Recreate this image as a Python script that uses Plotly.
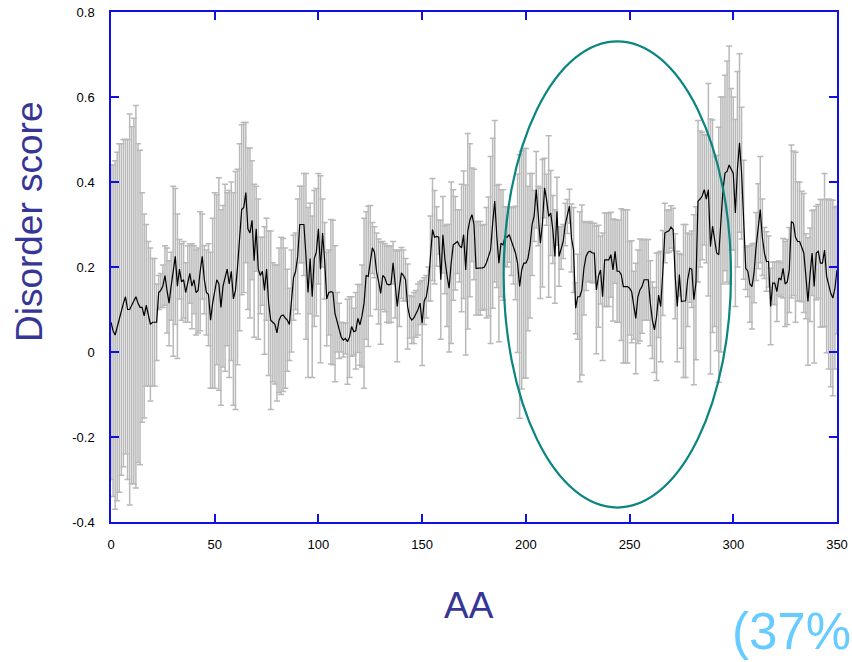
import plotly.graph_objects as go

# Per-residue disorder score (mean) and its spread (standard deviation)
residues = list(range(0, 351))

disorder_mean = [
    0.07, 0.05, 0.04, 0.06, 0.08, 0.10, 0.115, 0.13, 0.10, 0.10,
    0.11, 0.12, 0.13, 0.115, 0.105, 0.105, 0.085, 0.11, 0.09, 0.065,
    0.07, 0.07, 0.07, 0.14, 0.145, 0.155, 0.18, 0.145, 0.115, 0.155,
    0.19, 0.225, 0.155, 0.195, 0.165, 0.17, 0.14, 0.16, 0.185, 0.155,
    0.17, 0.14, 0.145, 0.19, 0.225, 0.17, 0.14, 0.135, 0.075, 0.115,
    0.145, 0.17, 0.16, 0.105, 0.155, 0.175, 0.195, 0.16, 0.19, 0.125,
    0.145, 0.20, 0.27, 0.335, 0.34, 0.375, 0.29, 0.28, 0.31, 0.215,
    0.29, 0.195, 0.18, 0.19, 0.145, 0.195, 0.115, 0.075, 0.07, 0.065,
    0.045, 0.075, 0.085, 0.087, 0.08, 0.075, 0.065, 0.12, 0.175, 0.19,
    0.225, 0.30, 0.30, 0.30, 0.225, 0.14, 0.22, 0.13, 0.22, 0.235,
    0.29, 0.195, 0.28, 0.215, 0.125, 0.14, 0.142, 0.14, 0.09, 0.07,
    0.05, 0.035, 0.028, 0.032, 0.024, 0.035, 0.06, 0.048, 0.05, 0.079,
    0.064, 0.085, 0.115, 0.18, 0.178, 0.215, 0.245, 0.235, 0.19, 0.166,
    0.138, 0.18, 0.175, 0.16, 0.158, 0.16, 0.21, 0.16, 0.107, 0.15,
    0.186, 0.18, 0.17, 0.107, 0.083, 0.075, 0.08, 0.09, 0.10, 0.115,
    0.068, 0.12, 0.13, 0.16, 0.22, 0.288, 0.27, 0.272, 0.27, 0.17,
    0.276, 0.217, 0.18, 0.15, 0.21, 0.252, 0.256, 0.26, 0.25, 0.245,
    0.276, 0.193, 0.284, 0.31, 0.323, 0.30, 0.197, 0.197, 0.197, 0.198,
    0.20, 0.21, 0.225, 0.24, 0.303, 0.355, 0.272, 0.209, 0.256, 0.252,
    0.272, 0.27, 0.276, 0.26, 0.25, 0.233, 0.209, 0.154, 0.193, 0.209,
    0.209, 0.22, 0.25, 0.30, 0.32, 0.382, 0.32, 0.256, 0.303, 0.386,
    0.358, 0.319, 0.327, 0.288, 0.225, 0.331, 0.225, 0.245, 0.26, 0.30,
    0.319, 0.343, 0.268, 0.24, 0.103, 0.13, 0.13, 0.146, 0.197, 0.225,
    0.235, 0.237, 0.233, 0.233, 0.146, 0.178, 0.193, 0.13, 0.217, 0.217,
    0.217, 0.229, 0.193, 0.237, 0.19, 0.19, 0.182, 0.154, 0.154, 0.154,
    0.15, 0.142, 0.11, 0.079, 0.13, 0.146, 0.154, 0.17, 0.17, 0.17,
    0.115, 0.075, 0.052, 0.083, 0.134, 0.107, 0.186, 0.28, 0.283, 0.285,
    0.294, 0.288, 0.178, 0.107, 0.182, 0.119, 0.12, 0.12, 0.17, 0.197,
    0.195, 0.123, 0.162, 0.355, 0.36, 0.367, 0.382, 0.36, 0.382, 0.248,
    0.296, 0.26, 0.233, 0.229, 0.30, 0.38, 0.421, 0.425, 0.44, 0.43,
    0.42, 0.327, 0.43, 0.492, 0.421, 0.311, 0.197, 0.19, 0.16, 0.154,
    0.186, 0.248, 0.296, 0.335, 0.27, 0.233, 0.213, 0.213, 0.107, 0.162,
    0.162, 0.142, 0.174, 0.17, 0.197, 0.16, 0.165, 0.193, 0.307, 0.303,
    0.27, 0.26, 0.26, 0.248, 0.233, 0.178, 0.119, 0.182, 0.233, 0.154,
    0.233, 0.237, 0.209, 0.209, 0.24, 0.178, 0.16, 0.138, 0.127, 0.15,
    0.193,
]

disorder_sd = [
    0.37, 0.39, 0.41, 0.41, 0.41, 0.39, 0.385, 0.37, 0.40, 0.46,
    0.42, 0.43, 0.45, 0.375, 0.37, 0.27, 0.24, 0.19, 0.17, 0.18,
    0.15, 0.15, 0.09, 0.04, 0.04, 0.05, 0.07, 0.10, 0.10, 0.08,
    0.20, 0.16, 0.17, 0.07, 0.09, 0.09, 0.07, 0.09, 0.07, 0.10,
    0.08, 0.10, 0.10, 0.14, 0.10, 0.08, 0.10, 0.12, 0.16, 0.20,
    0.23, 0.20, 0.25, 0.23, 0.19, 0.22, 0.18, 0.22, 0.21, 0.25,
    0.28, 0.23, 0.22, 0.20, 0.20, 0.165, 0.19, 0.20, 0.14, 0.18,
    0.10, 0.165, 0.09, 0.08, 0.15, 0.12, 0.17, 0.21, 0.14, 0.14,
    0.16, 0.17, 0.185, 0.18, 0.165, 0.12, 0.085, 0.12, 0.10, 0.09,
    0.135, 0.09, 0.09, 0.12, 0.195, 0.20, 0.13, 0.19, 0.16, 0.15,
    0.13, 0.22, 0.08, 0.09, 0.11, 0.10, 0.17, 0.17, 0.16, 0.07,
    0.065, 0.035, 0.04, 0.036, 0.10, 0.095, 0.07, 0.055, 0.09, 0.08,
    0.095, 0.12, 0.20, 0.15, 0.165, 0.13, 0.06, 0.06, 0.09, 0.10,
    0.12, 0.08, 0.08, 0.09, 0.09, 0.09, 0.05, 0.08, 0.13, 0.09,
    0.06, 0.06, 0.05, 0.10, 0.05, 0.055, 0.06, 0.055, 0.06, 0.05,
    0.10, 0.055, 0.05, 0.04, 0.10, 0.12, 0.11, 0.07, 0.04, 0.14,
    0.09, 0.08, 0.12, 0.15, 0.19, 0.13, 0.11, 0.075, 0.085, 0.15,
    0.15, 0.20, 0.23, 0.18, 0.11, 0.13, 0.11, 0.11, 0.11, 0.10,
    0.10, 0.13, 0.14, 0.22, 0.20, 0.19, 0.12, 0.185, 0.126, 0.13,
    0.07, 0.07, 0.065, 0.08, 0.09, 0.11, 0.21, 0.31, 0.28, 0.27,
    0.27, 0.17, 0.17, 0.12, 0.06, 0.09, 0.07, 0.13, 0.15, 0.07,
    0.06, 0.19, 0.10, 0.08, 0.11, 0.08, 0.07, 0.05, 0.04, 0.05,
    0.04, 0.04, 0.08, 0.10, 0.06, 0.10, 0.20, 0.20, 0.11, 0.08,
    0.07, 0.07, 0.07, 0.07, 0.15, 0.12, 0.08, 0.15, 0.11, 0.11,
    0.11, 0.10, 0.12, 0.075, 0.12, 0.12, 0.155, 0.18, 0.18, 0.18,
    0.11, 0.12, 0.08, 0.13, 0.11, 0.12, 0.11, 0.095, 0.095, 0.095,
    0.10, 0.09, 0.10, 0.15, 0.10, 0.13, 0.10, 0.07, 0.05, 0.05,
    0.05, 0.05, 0.10, 0.13, 0.05, 0.11, 0.18, 0.18, 0.11, 0.08,
    0.09, 0.20, 0.18, 0.19, 0.16, 0.15, 0.13, 0.15, 0.25, 0.30,
    0.25, 0.20, 0.23, 0.30, 0.30, 0.22, 0.23, 0.26, 0.28, 0.19,
    0.18, 0.22, 0.23, 0.21, 0.155, 0.14, 0.05, 0.06, 0.09, 0.10,
    0.07, 0.08, 0.10, 0.125, 0.09, 0.06, 0.07, 0.06, 0.09, 0.05,
    0.05, 0.07, 0.04, 0.04, 0.07, 0.10, 0.10, 0.10, 0.18, 0.17,
    0.20, 0.14, 0.14, 0.13, 0.14, 0.10, 0.15, 0.11, 0.10, 0.18,
    0.11, 0.11, 0.15, 0.15, 0.18, 0.18, 0.20, 0.22, 0.23, 0.19,
    0.15,
]

x_ticks = [0, 50, 100, 150, 200, 250, 300, 350]
x_tick_text = ["0", "50", "100", "150", "200", "250", "300", "350"]
y_ticks = [-0.4, -0.2, 0, 0.2, 0.4, 0.6, 0.8]
y_tick_text = ["-0.4", "-0.2", "0", "0.2", "0.4", "0.6", "0.8"]

# Highlighted region (ellipse bounds in data units)
region_x = [189.3, 298.9]
region_y = [-0.366, 0.731]

AXIS_BLUE = "#1010e0"
TITLE_BLUE = "#363696"
FONT = "Liberation Sans, Arial, sans-serif"

fig = go.Figure()

# Standard-deviation bars, drawn underneath the mean line
fig.add_trace(go.Scatter(
    x=residues, y=disorder_mean, mode="markers",
    marker=dict(size=1, color="rgba(0,0,0,0)"),
    error_y=dict(type="data", array=disorder_sd, visible=True,
                 color="#b9b9b9", thickness=1.5, width=3),
    hoverinfo="skip", showlegend=False,
))

# Mean disorder score
fig.add_trace(go.Scatter(
    x=residues, y=disorder_mean, mode="lines",
    line=dict(color="black", width=1.2),
    showlegend=False,
))

fig.add_shape(type="circle", xref="x", yref="y",
              x0=region_x[0], x1=region_x[1], y0=region_y[0], y1=region_y[1],
              line=dict(color="#0b8580", width=2.2), layer="above")

axis_common = dict(
    showline=True, linecolor=AXIS_BLUE, linewidth=1.5, mirror="ticks",
    ticks="inside", ticklen=8, tickwidth=1.5, tickcolor=AXIS_BLUE,
    showgrid=False, zeroline=False, automargin=False,
    tickfont=dict(family=FONT, size=13, color="black"),
)

fig.update_xaxes(range=[0, 350], tickvals=x_ticks, ticktext=x_tick_text,
                 ticklabelstandoff=10, **axis_common)
fig.update_yaxes(range=[-0.4, 0.8], tickvals=y_ticks, ticktext=y_tick_text,
                 ticklabelstandoff=12, **axis_common)

fig.add_annotation(text="Disorder score", xref="paper", yref="paper",
                   x=-0.113, y=0.59, textangle=-90, showarrow=False,
                   xanchor="center", yanchor="middle",
                   font=dict(family=FONT, size=37, color=TITLE_BLUE))
fig.add_annotation(text="AA", xref="paper", yref="paper",
                   x=0.493, y=-0.163, showarrow=False,
                   xanchor="center", yanchor="middle",
                   font=dict(family=FONT, size=37, color=TITLE_BLUE))
fig.add_annotation(text="(37%", xref="paper", yref="paper",
                   x=0.853, y=-0.215, showarrow=False,
                   xanchor="left", yanchor="middle",
                   font=dict(family=FONT, size=51, color="#66ccff"))

fig.update_layout(
    width=852, height=662,
    margin=dict(l=111, r=15, t=12, b=140),
    paper_bgcolor="white", plot_bgcolor="white",
)

fig.write_html("out.html")
